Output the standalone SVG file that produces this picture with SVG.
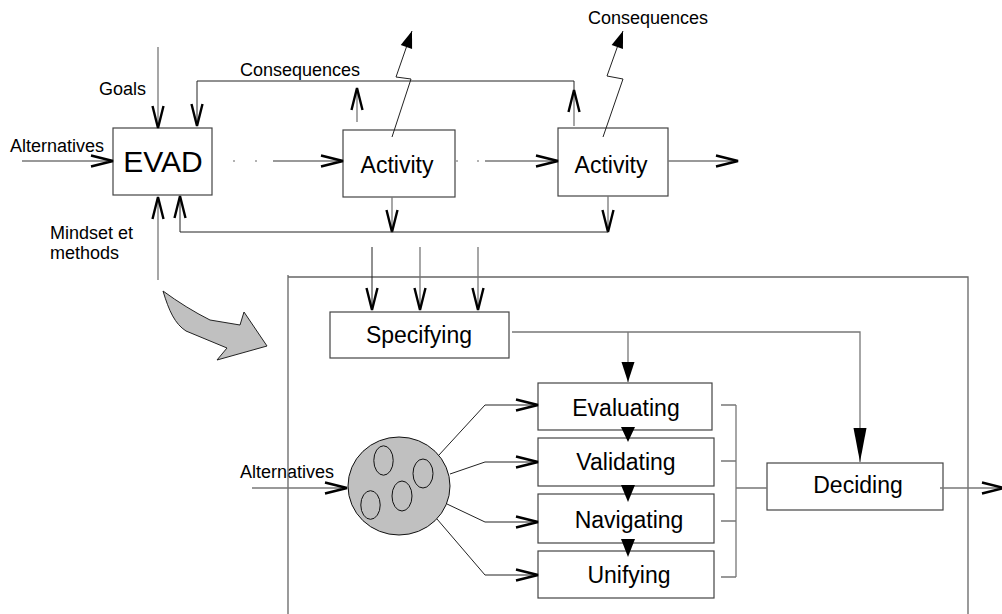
<svg xmlns="http://www.w3.org/2000/svg" width="1002" height="614" viewBox="0 0 1002 614">
  <defs>
    <style>
      text { font-family: "Liberation Sans", Arial, sans-serif; fill: #000; }
      .lbl { font-size: 18px; }
      .box { fill: #fff; stroke: #444; stroke-width: 1.2; }
      .big { font-size: 23px; text-anchor: middle; }
      .ln { fill: none; stroke: #222; stroke-width: 1; }
      .gl { fill: none; stroke: #777; stroke-width: 1.3; }
      .dot { fill: none; stroke: #999; stroke-width: 1.3; }
      .head { fill: #000; stroke: none; }
      .oval { fill: none; stroke: #111; stroke-width: 1; }
    </style>
    <!-- open "V" arrowhead -->
    <marker id="open" markerUnits="userSpaceOnUse" markerWidth="24" markerHeight="12" refX="22" refY="5.5" orient="auto" overflow="visible">
      <path d="M0,0 L22,5.5 L0,11" fill="none" stroke="#000" stroke-width="2.4"/>
    </marker>
    <!-- solid triangular arrowheads -->
    <marker id="solid" markerUnits="userSpaceOnUse" markerWidth="18" markerHeight="12" refX="17" refY="6" orient="auto" overflow="visible">
      <path d="M0,0 L17,6 L0,12 Z" fill="#000"/>
    </marker>
    <marker id="solidLong" markerUnits="userSpaceOnUse" markerWidth="34" markerHeight="13" refX="34" refY="6.5" orient="auto" overflow="visible">
      <path d="M0,0 L34,6.5 L0,13 Z" fill="#000"/>
    </marker>
    <marker id="solidShort" markerUnits="userSpaceOnUse" markerWidth="20" markerHeight="13" refX="20" refY="6.5" orient="auto" overflow="visible">
      <path d="M0,0 L20,6.5 L0,13 Z" fill="#000"/>
    </marker>
  </defs>

  <rect width="1002" height="614" fill="#fff"/>

  <!-- free labels -->
  <g id="labels">
    <text class="lbl" x="99" y="95">Goals</text>
    <text class="lbl" x="10" y="152">Alternatives</text>
    <text class="lbl" x="50" y="239">Mindset et</text>
    <text class="lbl" x="50" y="259">methods</text>
    <text class="lbl" x="240" y="76">Consequences</text>
    <text class="lbl" x="588" y="24">Consequences</text>
    <text class="lbl" x="240" y="478">Alternatives</text>
  </g>

  <!-- enclosing frame of the detailed view -->
  <g id="frame">
    <polyline points="288,614 288,275 288,277 968,277 968,614" fill="none" stroke="#666" stroke-width="1.3"/>
  </g>

  <!-- curved transition arrow -->
  <g id="zoom-arrow">
    <path d="M163,291 C169,311 175,324 186,331 L227,348 L217,360 L267,346 L244,312 L240,325 L210,320 C194,312 178,302 163,291 Z" fill="#c0c0c0" stroke="#222" stroke-width="1"/>
  </g>

  <g id="evad">
    <rect class="box" x="113" y="128" width="99" height="67"/>
    <text x="163" y="172" font-size="30" text-anchor="middle">EVAD</text>
  </g>
  <g id="activity-1">
    <rect class="box" x="343" y="130" width="112" height="67"/>
    <text class="big" x="397" y="173">Activity</text>
  </g>
  <g id="activity-2">
    <rect class="box" x="558" y="128" width="110" height="68"/>
    <text class="big" x="611" y="173">Activity</text>
  </g>

  <g id="specifying">
    <rect class="box" x="330" y="312" width="179" height="46"/>
    <text class="big" x="419" y="343">Specifying</text>
  </g>

  <g id="alternatives-pool">
    <ellipse cx="399" cy="486" rx="51" ry="49" fill="#c0c0c0" stroke="#111" stroke-width="1"/>
    <ellipse class="oval" cx="383.5" cy="460.5" rx="9.7" ry="14.7"/>
    <ellipse class="oval" cx="423" cy="473.5" rx="10" ry="14.5"/>
    <ellipse class="oval" cx="402" cy="496" rx="10" ry="15"/>
    <ellipse class="oval" cx="370.5" cy="505" rx="9.7" ry="14.3"/>
  </g>

  <g id="evaluating">
    <rect class="box" x="538" y="383" width="174" height="47"/>
    <text class="big" x="626" y="416">Evaluating</text>
  </g>
  <g id="validating">
    <rect class="box" x="538" y="438" width="176" height="48"/>
    <text class="big" x="626" y="470">Validating</text>
  </g>
  <g id="navigating">
    <rect class="box" x="538" y="494" width="176" height="49"/>
    <text class="big" x="629" y="528">Navigating</text>
  </g>
  <g id="unifying">
    <rect class="box" x="538" y="551" width="176" height="47"/>
    <text class="big" x="629" y="583">Unifying</text>
  </g>

  <g id="deciding">
    <rect class="box" x="767" y="463" width="176" height="47"/>
    <text class="big" x="858" y="493">Deciding</text>
  </g>

  <g id="connectors">
    <!-- inputs to EVAD -->
    <line class="gl" x1="158" y1="47" x2="158" y2="128" marker-end="url(#open)"/>
    <line class="gl" x1="22" y1="161" x2="113" y2="161" marker-end="url(#open)"/>
    <line class="gl" x1="158" y1="280" x2="158" y2="197" marker-end="url(#open)"/>

    <!-- consequences feedback loop (top) -->
    <path class="ln" d="M574,90 V81 H197 V126" marker-end="url(#open)"/>
    <line class="gl" x1="574" y1="126" x2="574" y2="90" marker-end="url(#open)"/>
    <line class="gl" x1="357" y1="122" x2="357" y2="88" marker-end="url(#open)"/>

    <!-- flow EVAD -> Activity -> Activity -> out -->
    <line class="dot" x1="233" y1="161" x2="235" y2="161"/>
    <line class="dot" x1="255" y1="161" x2="257" y2="161"/>
    <line class="gl" x1="273" y1="161" x2="343" y2="161" marker-end="url(#open)"/>
    <line class="dot" x1="456" y1="161" x2="458" y2="161"/>
    <line class="dot" x1="477" y1="161" x2="479" y2="161"/>
    <line class="gl" x1="485" y1="161" x2="558" y2="161" marker-end="url(#open)"/>
    <line class="gl" x1="668" y1="161" x2="738" y2="161" marker-end="url(#open)"/>

    <!-- lightning arrows to consequences -->
    <polyline class="ln" points="392,137 411,79 396,77 412,31" marker-end="url(#solid)"/>
    <polyline class="ln" points="603,137 623,79 607,76 623,31" marker-end="url(#solid)"/>

    <!-- lower feedback loop -->
    <line class="gl" x1="392" y1="197" x2="392" y2="232" marker-end="url(#open)"/>
    <line class="gl" x1="608" y1="196" x2="608" y2="232" marker-end="url(#open)"/>
    <path class="ln" d="M608,232 H180 V196" marker-end="url(#open)"/>

    <!-- inputs to Specifying -->
    <line class="ln" x1="372" y1="247" x2="372" y2="310" marker-end="url(#open)"/>
    <line class="gl" x1="420" y1="247" x2="420" y2="310" marker-end="url(#open)"/>
    <line class="gl" x1="478" y1="247" x2="478" y2="310" marker-end="url(#open)"/>

    <!-- Specifying outputs -->
    <path class="gl" d="M512,332 H860 V462" marker-end="url(#solidLong)"/>
    <line class="gl" x1="628" y1="332" x2="628" y2="382" marker-end="url(#solidShort)"/>

    <!-- sequence between the four activities -->
    <polygon class="head" points="621,427 635,427 628,442"/>
    <polygon class="head" points="621,485 635,485 628,502"/>
    <polygon class="head" points="621,539 635,539 628,557"/>

    <!-- alternatives into the pool -->
    <line class="gl" x1="252" y1="488" x2="347" y2="488" marker-end="url(#open)"/>

    <!-- pool to each activity -->
    <polyline class="ln" points="439,455 485,405 538,405" marker-end="url(#open)"/>
    <polyline class="ln" points="450,474 485,462 538,462" marker-end="url(#open)"/>
    <polyline class="ln" points="447,504 485,522 538,522" marker-end="url(#open)"/>
    <polyline class="ln" points="437,519 485,575 538,575" marker-end="url(#open)"/>

    <!-- bracket joining results into Deciding -->
    <path class="gl" d="M721,405 H736 M721,461 H736 M721,521 H736 M721,577 H736 M736,405 V577 M736,488 H767"/>

    <!-- Deciding output -->
    <line class="gl" x1="940" y1="488" x2="1004" y2="488" marker-end="url(#open)"/>
  </g>
</svg>
